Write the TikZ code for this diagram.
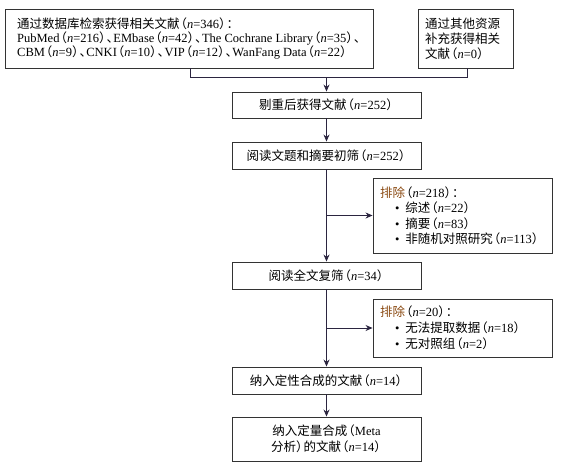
\documentclass[tikz,border=0pt]{standalone}
\usepackage{fontspec}
\setmainfont{Liberation Serif}
\newfontfamily\cjk{Noto Sans CJK SC}
\usetikzlibrary{arrows.meta}
\newcommand{\zh}[1]{{\cjk #1}}
\newcommand{\nn}{\textit{n}}
\newcommand{\lp}{\makebox[0.6em][r]{\cjk （}}
\newcommand{\rp}{\makebox[0.6em][l]{\cjk ）}}
\newcommand{\dn}{\makebox[0.55em][l]{\cjk 、}}
\newcommand{\cln}{\makebox[0.6em][l]{\cjk ：}}
\definecolor{lnc}{HTML}{2B2540}
\definecolor{bdc}{HTML}{333333}
\definecolor{brn}{HTML}{8A4A12}
\tikzset{
  box/.style={draw=bdc, line width=0.9pt, inner sep=0pt, font=\fontsize{12.5}{14}\selectfont},
  mainbox/.style={box, minimum width=189pt, align=center},
  exbox/.style={box, minimum width=179pt, text width=165pt, align=left},
  arr/.style={draw=lnc, line width=0.8pt, -{Stealth[length=7pt,width=6pt]}},
  ln/.style={draw=lnc, line width=0.8pt}
}
\begin{document}
\begin{tikzpicture}[x=1pt,y=-1pt]
\useasboundingbox (0,0) rectangle (563,466);
\node[box, minimum width=368pt, minimum height=59pt, align=left, font=\fontsize{12.5}{13.8}\selectfont] (b1) at (189,38.5)
 {\zh{通过数据库检索获得相关文献}\lp\nn=346\rp\cln\\
  PubMed\lp\nn=216\rp\dn EMbase\lp\nn=42\rp\dn The Cochrane Library\lp\nn=35\rp\dn\\
  CBM\lp\nn=9\rp\dn CNKI\lp\nn=10\rp\dn VIP\lp\nn=12\rp\dn WanFang Data\lp\nn=22\rp};
\node[box, minimum width=95pt, minimum height=59pt, text width=81pt, align=left, font=\fontsize{12.5}{15}\selectfont] (b2) at (465.5,38.5)
 {\zh{通过其他资源}\\\zh{补充获得相关}\\\zh{文献}\lp\nn=0\rp};
\node[mainbox, minimum height=26pt] (b3) at (326.5,105) {\zh{剔重后获得文献}\lp\nn=252\rp};
\node[mainbox, minimum height=27pt] (b4) at (326.5,155.5) {\zh{阅读文题和摘要初筛}\lp\nn=252\rp};
\node[exbox, minimum height=75pt, font=\fontsize{12.5}{15.5}\selectfont] (e1) at (462.5,215.5)
 {\textcolor{brn}{\zh{排除}}\lp\nn=218\rp\cln\\
  \hspace*{15pt}\textbullet\hspace{6pt}\zh{综述}\lp\nn=22\rp\\
  \hspace*{15pt}\textbullet\hspace{6pt}\zh{摘要}\lp\nn=83\rp\\
  \hspace*{15pt}\textbullet\hspace{6pt}\zh{非随机对照研究}\lp\nn=113\rp};
\node[mainbox, minimum height=27pt] (b5) at (326.5,275.5) {\zh{阅读全文复筛}\lp\nn=34\rp};
\node[exbox, minimum height=58pt, font=\fontsize{12.5}{16}\selectfont] (e2) at (462.5,328)
 {\textcolor{brn}{\zh{排除}}\lp\nn=20\rp\cln\\
  \hspace*{15pt}\textbullet\hspace{6pt}\zh{无法提取数据}\lp\nn=18\rp\\
  \hspace*{15pt}\textbullet\hspace{6pt}\zh{无对照组}\lp\nn=2\rp};
\node[mainbox, minimum height=27pt] (b6) at (326.5,380.5) {\zh{纳入定性合成的文献}\lp\nn=14\rp};
\node[mainbox, minimum height=44pt, font=\fontsize{12.5}{16}\selectfont] (b7) at (326.5,439) {\zh{纳入定量合成}\lp Meta\\\zh{分析}\rp\zh{的文献}\lp\nn=14\rp};
% merge connector
\coordinate (m1) at (190,77);
\coordinate (m2) at (467,77);
\draw[ln] (b1.south -| m1) -- (m1) -- (m2) -- (b2.south -| m2);
\draw[arr] (m1 -| b3.north) -- (b3.north);
\draw[arr] (b3) -- (b4);
\draw[arr] (b4) -- (b5);
\draw[arr] (b4.south |- e1.west) -- (e1.west);
\draw[arr] (b5) -- (b6);
\draw[arr] (b5.south |- e2.west) -- (e2.west);
\draw[arr] (b6) -- (b7);
\end{tikzpicture}
\end{document}
